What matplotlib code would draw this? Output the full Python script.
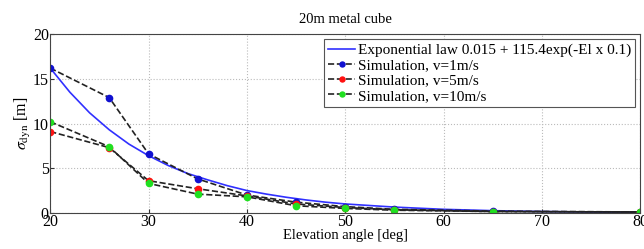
import numpy as np
import matplotlib
matplotlib.use('Agg')
import matplotlib.pyplot as plt

plt.rcParams['font.family'] = ['Liberation Serif', 'DejaVu Serif']
plt.rcParams['mathtext.fontset'] = 'stix'

# exponential law curve
el_fit = [20, 22, 24, 26, 28, 30, 32, 34, 36, 38, 40, 42, 44, 46, 48, 50, 55, 60, 65, 70, 75, 80]
sig_fit = [16.2, 13.5, 11.2, 9.3, 7.7, 6.4, 5.3, 4.4, 3.7, 3.05, 2.5, 2.1, 1.75, 1.45, 1.2, 1.0,
           0.65, 0.4, 0.25, 0.15, 0.1, 0.06]

el = [20, 26, 30, 35, 40, 45, 50, 55, 65, 80]
sig_v1 = [16.2, 12.9, 6.6, 3.8, 2.0, 1.2, 0.7, 0.4, 0.2, 0.1]
sig_v5 = [9.1, 7.3, 3.6, 2.7, 1.9, 1.0, 0.6, 0.35, 0.15, 0.1]
sig_v10 = [10.2, 7.4, 3.3, 2.1, 1.8, 0.8, 0.5, 0.3, 0.15, 0.1]

fig = plt.figure(figsize=(6.44, 2.49), dpi=100)
ax = fig.add_axes([0.078, 0.145, 0.916, 0.718])

ax.plot(el_fit, sig_fit, '-', color='#3030ff', lw=1.2, label='Exponential law 0.015 + 115.4exp(-El x 0.1)')
ax.plot(el, sig_v1, '--', color='#222222', lw=1.2, marker='o', ms=4.5, mfc='#1010d0', mec='#1010d0',
        label='Simulation, v=1m/s')
ax.plot(el, sig_v5, '--', color='#222222', lw=1.2, marker='o', ms=4.5, mfc='#ff1010', mec='#ff1010',
        label='Simulation, v=5m/s')
ax.plot(el, sig_v10, '--', color='#222222', lw=1.2, marker='o', ms=4.5, mfc='#20e020', mec='#20e020',
        label='Simulation, v=10m/s')

ax.set_xlim(20, 80)
ax.set_ylim(0, 20)
ax.set_xticks([20, 30, 40, 50, 60, 70, 80])
ax.set_yticks([0, 5, 10, 15, 20])
ax.tick_params(direction='in', labelsize=11.5, length=3, color='#333333', pad=1)
ax.grid(True, linestyle=':', color='#bbbbbb', lw=0.8)
for s in ax.spines.values():
    s.set_color('#444444')

ax.set_title('20m metal cube', fontsize=10.5, pad=8)
ax.set_xlabel('Elevation angle [deg]', fontsize=10.5, labelpad=-1)
ax.set_ylabel(r'$\sigma_{\rm dyn}$ [m]', fontsize=11.5, labelpad=0)

leg = ax.legend(loc='upper right', fontsize=11, fancybox=False, framealpha=1, edgecolor='#555555',
                handlelength=1.8, handletextpad=0.15, borderpad=0.25, labelspacing=0.1,
                borderaxespad=0.35, markerscale=0.8)
leg.get_frame().set_linewidth(0.8)

fig.savefig('out.png', dpi=100)
